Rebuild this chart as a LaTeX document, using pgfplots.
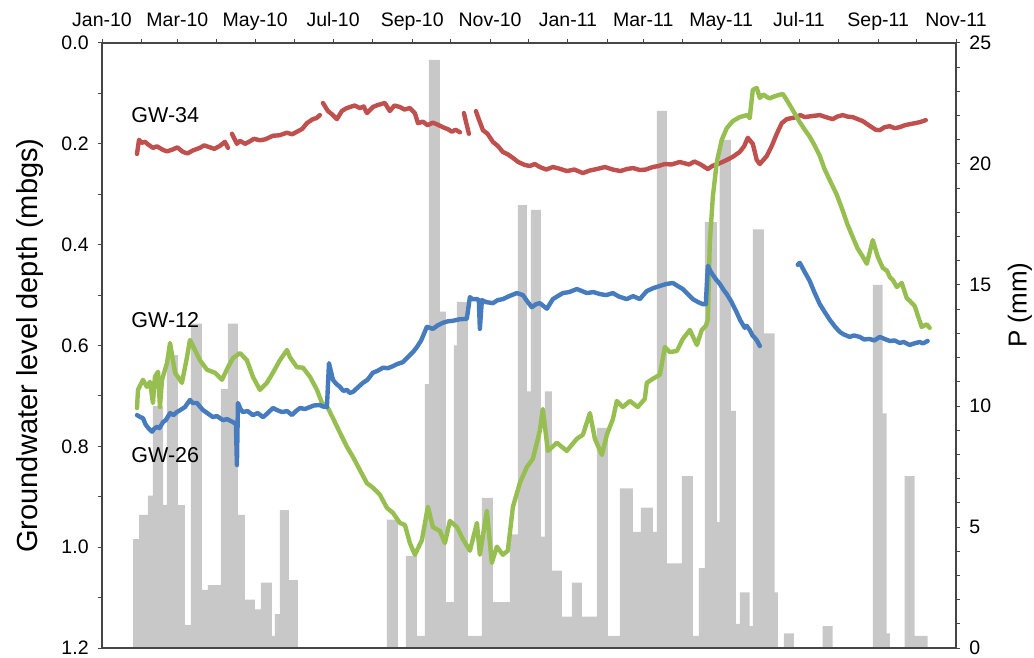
\documentclass[border=0pt]{standalone}
\usepackage{pgfplots}
\pgfplotsset{compat=1.18}
\usepackage{fontspec}
\setmainfont{Liberation Sans}

\definecolor{gwred}{RGB}{192,80,77}
\definecolor{gwblue}{RGB}{70,124,190}
\definecolor{gwgreen}{RGB}{150,190,80}
\definecolor{rain}{RGB}{200,200,200}
\definecolor{axisgray}{RGB}{70,70,70}

\begin{document}
\begin{tikzpicture}
\pgfplotsset{
  common/.style={
    scale only axis, width=427pt, height=302.5pt,
    xmin=0, xmax=669,
    tick align=outside,
    major tick length=2pt, minor tick length=2pt,
    tick style={axisgray, line width=0.5pt},
    axis line style={axisgray, line width=0.6pt},
    every tick label/.append style={font=\fontsize{9.75}{11}\selectfont},
    /pgf/number format/assume math mode=true,
  }
}
% daily precipitation (right axis)
\begin{axis}[common,
  axis x line=none,
  axis y line*=right,
  ymin=0, ymax=25,
  ytick={0,5,10,15,20,25},
  minor y tick num=4,
  yticklabel style={anchor=west, inner sep=0pt, xshift=4.5pt},
  ylabel={P (mm)},
  every axis y label/.style={at={(axis description cs:1.0749,0.567)}, rotate=90,
    anchor=center, font=\fontsize{13}{15}\selectfont},
]
\addplot[ybar interval, fill=rain, draw=none] coordinates {
(24.3,4.5) (29.0,5.5) (36.0,6.3) (39.9,10.0) (47.8,5.9) (50.9,12.1) (59.5,5.9)
(65.0,0.95) (69.7,13.4) (78.3,2.4) (83.0,2.6) (93.2,10.7) (98.7,13.4) (106.5,5.5)
(112.0,2.0) (119.8,1.6) (124.5,2.7) (133.1,0.5) (135.5,1.4) (139.4,5.7) (146.4,2.8)
(153.5,0) (223.2,5.3) (231.8,0) (238.1,3.8) (246.7,0.5) (252.9,10.9) (256.1,24.3)
(264.7,13.9) (269.4,1.9) (275.6,12.5) (278.0,14.3) (286.6,0.5) (297.6,6.2)
(306.2,1.9) (319.5,4.7) (325.8,18.3) (332.8,10.6) (335.9,18.1) (343.8,4.6)
(346.9,10.6) (352.4,3.2) (360.2,1.3) (368.1,2.7) (375.9,1.3) (387.6,9.1)
(396.2,0.5) (405.6,6.6) (415.8,4.8) (422.1,5.8) (431.5,4.8) (434.6,22.2)
(442.5,3.5) (454.2,7.1) (462.8,0.5) (467.5,3.3) (472.2,17.6) (481.6,5.2)
(483.9,21.0) (492.6,9.8) (496.5,1.0) (499.6,2.3) (507.4,0.9) (509.8,17.3)
(518.4,13.0) (527.0,2.3) (529.4,0) (534.1,0.6) (541.9,0) (564.6,0.9) (572.4,0)
(603.8,15.0) (611.6,9.7) (614.7,0.6) (617.1,0) (628.8,7.1) (636.6,0.5) (646.8,0)
};
\end{axis}
% groundwater level depth (left axis)
\begin{axis}[common,
  y dir=reverse, ymin=0, ymax=1.2,
  xtick pos=right, xticklabel pos=right,
  ytick pos=left,
  xtick={0,59,120,181,243,304,365,424,485,546,608,669},
  xticklabels={Jan-10,Mar-10,May-10,Jul-10,Sep-10,Nov-10,Jan-11,Mar-11,May-11,Jul-11,Sep-11,Nov-11},
  minor xtick={31,90,151,212,273,334,396,455,516,577,638},
  xticklabel style={anchor=base, inner sep=0pt, yshift=6pt},
  ytick={0,0.2,0.4,0.6,0.8,1.0,1.2},
  minor y tick num=1,
  yticklabel style={anchor=east, inner sep=0pt, xshift=-4.5pt,
    /pgf/number format/.cd, fixed, fixed zerofill, precision=1},
  ylabel={Groundwater level depth (mbgs)},
  every axis y label/.style={at={(axis description cs:-0.0843,0.5)}, rotate=90,
    anchor=center, font=\fontsize{14.5}{16}\selectfont},
  every axis plot/.append style={line width=2.2pt, line join=round, line cap=round},
]
% GW-34
\addplot[gwred] coordinates {
(27.4,0.220) (29.0,0.192) (31.0,0.198) (33.7,0.196) (36.0,0.201) (39.9,0.208) (43.0,0.205)
(47.8,0.212) (51.0,0.215) (55.6,0.211) (59.0,0.207) (63.4,0.216) (67.0,0.219) (71.3,0.213)
(76.7,0.208) (80.0,0.203) (84.6,0.207) (88.0,0.210) (92.4,0.204) (96.3,0.196) (98.7,0.208)
};
\addplot[gwred] coordinates {
(101.8,0.180) (105.7,0.200) (108.1,0.194) (112.0,0.200) (115.9,0.195) (119.0,0.190)
(123.7,0.193) (128.0,0.191) (133.9,0.184) (139.0,0.183) (144.9,0.178) (149.0,0.181)
(153.5,0.175) (157.0,0.170) (160.5,0.159) (165.2,0.151) (168.0,0.149) (170.7,0.143)
};
\addplot[gwred] coordinates {
(173.1,0.119) (177.0,0.135) (180.0,0.141) (184.0,0.151) (187.9,0.135) (191.0,0.130)
(194.2,0.127) (198.0,0.124) (202.0,0.129) (205.0,0.126) (207.5,0.139) (212.2,0.127)
(216.0,0.123) (221.6,0.119) (225.5,0.135) (229.0,0.124) (233.4,0.127) (237.0,0.132)
(241.2,0.129) (245.1,0.139) (247.5,0.159) (251.4,0.156) (255.0,0.163) (259.2,0.158)
(263.0,0.162) (267.0,0.167) (271.0,0.171) (274.1,0.176) (277.0,0.172) (280.4,0.177)
};
\addplot[gwred] coordinates {(283.5,0.139) (287.4,0.180)};
\addplot[gwred] coordinates {
(292.9,0.135) (295.0,0.150) (298.4,0.173) (302.0,0.180) (306.2,0.196) (310.0,0.204)
(314.0,0.216) (318.0,0.221) (321.9,0.228) (326.0,0.236) (331.3,0.242) (335.2,0.244)
(339.0,0.240) (343.0,0.246) (348.0,0.251) (353.2,0.246) (358.0,0.249) (364.1,0.254)
(370.0,0.251) (376.7,0.258) (382.0,0.253) (387.6,0.250) (394.0,0.246) (400.2,0.251)
(406.0,0.254) (411.1,0.250) (416.0,0.248) (421.3,0.252) (426.0,0.251) (431.5,0.246)
(436.0,0.244) (440.9,0.240) (446.0,0.241) (452.6,0.236) (460.0,0.241) (464.0,0.235)
(468.3,0.240) (474.6,0.250) (478.0,0.244) (482.4,0.240) (486.0,0.236) (489.4,0.232)
(494.0,0.226) (499.6,0.216) (503.0,0.205) (505.9,0.188) (509.8,0.200) (512.9,0.232)
(515.3,0.240) (520.8,0.224) (524.7,0.204) (528.6,0.180) (532.5,0.159) (536.4,0.151)
(540.0,0.149) (544.3,0.147) (547.0,0.143) (550.5,0.147) (556.0,0.145) (562.3,0.143)
(567.0,0.147) (572.4,0.151) (576.0,0.146) (580.3,0.143) (584.0,0.146) (588.1,0.147)
(592.0,0.151) (596.0,0.155) (600.0,0.162) (603.0,0.167) (606.0,0.172) (609.3,0.173)
(613.0,0.167) (617.1,0.165) (621.0,0.169) (624.9,0.167) (629.0,0.163) (632.7,0.161)
(637.0,0.159) (640.6,0.157) (643.0,0.155) (645.3,0.153)
};
% GW-26
\addplot[gwgreen] coordinates {
(27.4,0.724) (28.2,0.688) (32.1,0.668) (35.2,0.682) (37.6,0.672) (39.9,0.714)
(41.5,0.662) (43.9,0.652) (45.4,0.722) (47.0,0.668) (50.9,0.635) (53.3,0.595)
(57.2,0.654) (62.6,0.674) (66.6,0.623) (68.9,0.589) (72.8,0.609) (76.7,0.629)
(82.2,0.648) (88.5,0.654) (94.0,0.668) (98.7,0.643) (102.6,0.625) (108.1,0.615)
(113.5,0.629) (118.2,0.662) (123.7,0.688) (129.2,0.674) (133.9,0.654) (139.4,0.629)
(144.9,0.609) (147.2,0.623) (152.7,0.643) (157.4,0.644) (162.9,0.662) (168.4,0.688)
(172.3,0.714) (177.0,0.724) (180.9,0.744) (186.4,0.773) (191.9,0.801) (196.6,0.821)
(202.0,0.847) (207.5,0.873) (212.2,0.882) (217.7,0.896) (223.2,0.922) (227.9,0.932)
(233.4,0.952) (237.3,0.956) (241.2,0.992) (245.1,1.015) (250.6,0.986) (255.3,0.920)
(259.2,0.960) (264.7,0.968) (268.6,0.992) (272.5,0.948) (278.0,0.960) (282.7,0.984)
(288.2,1.007) (293.7,0.952) (296.0,1.015) (301.5,0.928) (305.4,1.031) (309.3,0.999)
(314.0,1.015) (317.9,1.007) (321.9,0.920) (327.3,0.873) (332.8,0.841) (337.5,0.825)
(343.0,0.769) (345.3,0.726) (349.3,0.809) (356.3,0.793) (364.1,0.809) (372.0,0.785)
(376.7,0.777) (382.2,0.734) (386.1,0.785) (391.6,0.817) (395.5,0.777) (400.2,0.746)
(403.3,0.710) (408.0,0.722) (413.5,0.710) (419.7,0.722) (425.2,0.706) (426.8,0.674)
(431.5,0.666) (437.0,0.658) (440.9,0.603) (444.8,0.613) (450.3,0.611) (455.0,0.587)
(460.5,0.569) (466.0,0.599) (469.9,0.569) (473.0,0.561) (474.6,0.549) (476.1,0.397)
(478.5,0.305) (481.6,0.236) (485.5,0.192) (489.4,0.169) (494.1,0.155) (499.6,0.147)
(505.1,0.143) (507.4,0.149) (509.8,0.093) (512.9,0.089) (515.3,0.109) (518.0,0.102)
(520.8,0.107) (523.0,0.110) (525.5,0.107) (529.0,0.104) (533.3,0.101) (536.4,0.113)
(541.1,0.133) (546.6,0.157) (550.0,0.170) (554.4,0.186) (558.0,0.202) (562.3,0.224)
(566.0,0.250) (570.1,0.272) (575.6,0.301) (580.3,0.333) (584.0,0.360) (588.1,0.385)
(592.0,0.408) (596.0,0.424) (599.1,0.438) (603.8,0.391) (607.7,0.424) (611.6,0.446)
(615.0,0.452) (617.1,0.464) (619.5,0.470) (622.6,0.484) (626.5,0.476) (630.4,0.506)
(633.0,0.512) (636.7,0.522) (639.0,0.540) (642.1,0.563) (646.0,0.558) (648.4,0.565)
};
% GW-12
\addplot[gwblue] coordinates {
(27.4,0.738) (30.0,0.742) (32.1,0.744) (34.0,0.756) (36.0,0.763) (39.2,0.771) (41.0,0.765)
(43.1,0.761) (45.0,0.764) (47.8,0.752) (50.0,0.748) (53.3,0.734) (56.0,0.738) (58.7,0.732)
(62.0,0.727) (65.0,0.722) (68.9,0.708) (71.0,0.714) (74.4,0.714) (77.0,0.722) (79.1,0.728)
(83.0,0.735) (86.9,0.742) (90.0,0.740) (94.8,0.748) (98.0,0.746) (102.6,0.752) (104.9,0.756)
(105.7,0.837) (106.5,0.714) (108.5,0.726) (110.4,0.732) (114.0,0.730) (118.2,0.738)
(122.0,0.734) (126.1,0.742) (129.0,0.736) (133.9,0.724) (137.0,0.728) (141.0,0.732)
(145.0,0.730) (148.8,0.738) (152.0,0.730) (155.1,0.724) (159.0,0.726) (162.9,0.722)
(166.0,0.719) (170.7,0.718) (173.0,0.721) (176.2,0.722) (177.8,0.635) (180.9,0.668)
(183.5,0.676) (186.4,0.682) (189.0,0.690) (191.9,0.688) (194.0,0.694) (196.6,0.692)
(200.0,0.684) (204.4,0.674) (208.0,0.668) (212.2,0.654) (216.0,0.650) (220.1,0.644)
(224.0,0.645) (227.9,0.641) (231.0,0.637) (235.7,0.633) (238.0,0.627) (241.2,0.619)
(244.0,0.612) (246.7,0.603) (250.0,0.590) (254.5,0.563) (259.2,0.567) (263.0,0.560)
(267.0,0.555) (271.0,0.552) (274.9,0.551) (280.0,0.548) (285.8,0.547) (288.2,0.504)
(290.0,0.508) (293.7,0.508) (295.2,0.510) (296.0,0.567) (297.6,0.510) (301.0,0.514)
(306.2,0.516) (310.0,0.510) (314.0,0.508) (319.0,0.502) (325.0,0.496) (329.7,0.500)
(333.0,0.512) (336.7,0.524) (340.0,0.518) (343.0,0.516) (346.0,0.522) (348.5,0.527)
(353.2,0.508) (357.0,0.502) (361.0,0.496) (366.0,0.494) (372.0,0.488) (376.0,0.492)
(379.8,0.496) (385.0,0.494) (390.0,0.498) (395.0,0.500) (400.2,0.496) (405.0,0.503)
(411.1,0.508) (416.0,0.502) (421.3,0.508) (424.0,0.500) (426.8,0.492) (432.0,0.486)
(437.0,0.482) (442.0,0.478) (447.2,0.476) (451.0,0.482) (455.0,0.488) (459.0,0.498)
(462.8,0.508) (467.0,0.514) (470.7,0.518) (473.0,0.518) (474.6,0.442) (476.5,0.452)
(478.5,0.460) (481.0,0.469) (484.0,0.478) (487.0,0.490) (489.4,0.498) (493.0,0.513)
(497.3,0.535) (500.0,0.550) (503.5,0.565) (505.0,0.561) (507.4,0.569) (509.5,0.580)
(511.4,0.585) (513.0,0.590) (515.3,0.601)
};
\addplot[gwblue] coordinates {
(545.0,0.440) (546.6,0.436) (550.0,0.452) (554.4,0.472) (558.0,0.494) (562.3,0.518)
(566.0,0.533) (570.1,0.549) (574.0,0.562) (577.9,0.573) (581.0,0.578) (585.8,0.583)
(589.0,0.580) (593.6,0.583) (597.0,0.588) (601.4,0.587) (605.0,0.590) (609.3,0.583)
(613.0,0.587) (617.1,0.591) (621.0,0.590) (624.9,0.595) (628.0,0.593) (632.7,0.599)
(636.0,0.596) (640.6,0.593) (643.0,0.596) (646.8,0.591)
};
\node[anchor=west, inner sep=0pt, font=\fontsize{10.75}{12}\selectfont] at (axis cs:22.7,0.143) {GW-34};
\node[anchor=west, inner sep=0pt, font=\fontsize{10.75}{12}\selectfont] at (axis cs:22.7,0.549) {GW-12};
\node[anchor=west, inner sep=0pt, font=\fontsize{10.75}{12}\selectfont] at (axis cs:22.7,0.817) {GW-26};
\end{axis}
\pgfresetboundingbox
\path ([shift={(-51pt,-4.5pt)}]current axis.south west) rectangle ([shift={(39pt,21.5pt)}]current axis.north east);
\end{tikzpicture}
\end{document}
